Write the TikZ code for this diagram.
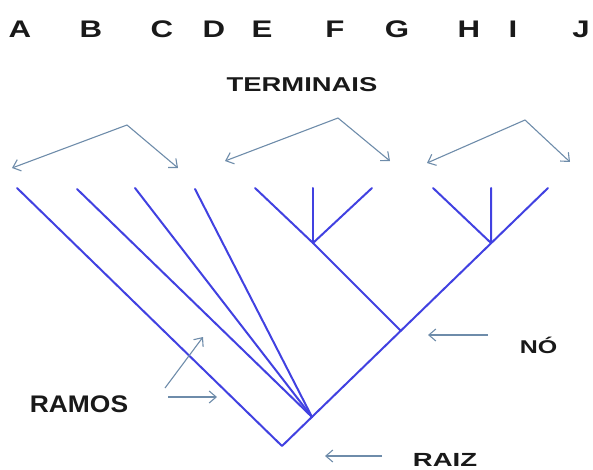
\documentclass[tikz,border=0pt]{standalone}
\usepackage{fontspec}
\setmainfont{Liberation Sans}
\usetikzlibrary{arrows.meta}
\definecolor{tree}{RGB}{65,65,225}
\definecolor{ptrc}{RGB}{110,140,170}
\definecolor{ink}{RGB}{25,25,25}
\begin{document}
\begin{tikzpicture}[x=1pt,y=-1pt,
  branch/.style={draw=tree,line width=2pt,line cap=round,line join=round},
  ptr/.style={draw=ptrc,line width=1.1pt,-{Straight Barb[length=7pt,width=12pt]}},
  lbl/.style={text=ink,inner sep=0,anchor=base,font=\bfseries\fontsize{#1}{#1}\selectfont},
]
\useasboundingbox (0,0) rectangle (593,470);
% top letters
\node[lbl=24,xscale=1.3] (lA) at (20,38) {A};
\node[lbl=24,xscale=1.3] (lB) at (91,38) {B};
\node[lbl=24,xscale=1.3] (lC) at (162,38) {C};
\node[lbl=24,xscale=1.3] (lD) at (214,38) {D};
\node[lbl=24,xscale=1.3] (lE) at (262,38) {E};
\node[lbl=24,xscale=1.3] (lF) at (335,38) {F};
\node[lbl=24,xscale=1.3] (lG) at (397,38) {G};
\node[lbl=24,xscale=1.3] (lH) at (469,38) {H};
\node[lbl=24,xscale=1.3] (lI) at (513,38) {I};
\node[lbl=24,xscale=1.3] (lJ) at (581,38) {J};
% labels
\node[lbl=20,xscale=1.37] (term) at (302,92) {TERMINAIS};
\node[lbl=24,xscale=1.1] (ramos) at (79,412) {RAMOS};
\node[lbl=18.5,xscale=1.35] (no) at (538.5,353) {NÓ};
\node[lbl=19,xscale=1.45] (raiz) at (445,466) {RAIZ};
% tree points
\coordinate (tA) at (17,188);
\coordinate (tB) at (77,189);
\coordinate (tC) at (135,188);
\coordinate (tD) at (195,189);
\coordinate (tE) at (255,188);
\coordinate (tF) at (313,188);
\coordinate (tG) at (372,188);
\coordinate (tH) at (433,188);
\coordinate (tI) at (491,188);
\coordinate (tJ) at (548,188);
\coordinate (nEFG) at (313,243);
\coordinate (nHIJ) at (491,243);
\coordinate (nNo) at (401,331);
\coordinate (nBCD) at (312,417);
\coordinate (root) at (282,446);
% tree
\draw[branch] (tA) -- (root) -- (tJ);
\draw[branch] (tB) -- (nBCD);
\draw[branch] (tC) -- (nBCD);
\draw[branch] (tD) -- (nBCD);
\draw[branch] (nNo) -- (nEFG);
\draw[branch] (tE) -- (nEFG) -- (tG);
\draw[branch] (tF) -- (nEFG);
\draw[branch] (tH) -- (nHIJ) -- (tI);
% terminal pointers
\coordinate (ap1) at (127,125);
\coordinate (ap1l) at (12,168);
\coordinate (ap1r) at (178,168);
\coordinate (ap2) at (338,118);
\coordinate (ap2l) at (225,161);
\coordinate (ap2r) at (390,161);
\coordinate (ap3) at (525,120);
\coordinate (ap3l) at (427,163);
\coordinate (ap3r) at (570,162);
\draw[ptr] (ap1) -- (ap1l);
\draw[ptr] (ap1) -- (ap1r);
\draw[ptr] (ap2) -- (ap2l);
\draw[ptr] (ap2) -- (ap2r);
\draw[ptr] (ap3) -- (ap3l);
\draw[ptr] (ap3) -- (ap3r);
% other pointers
\coordinate (r1s) at (165,388);
\coordinate (r1e) at (203,337);
\coordinate (r2s) at (168,397);
\coordinate (r2e) at (217,397);
\coordinate (nos) at (488,335);
\coordinate (noe) at (428,335);
\coordinate (rzs) at (382,456);
\coordinate (rze) at (325,456);
\draw[ptr] (r1s) -- (r1e);
\draw[ptr] (r2s) -- (r2e);
\draw[ptr] (nos) -- (noe);
\draw[ptr] (rzs) -- (rze);
\end{tikzpicture}
\end{document}
